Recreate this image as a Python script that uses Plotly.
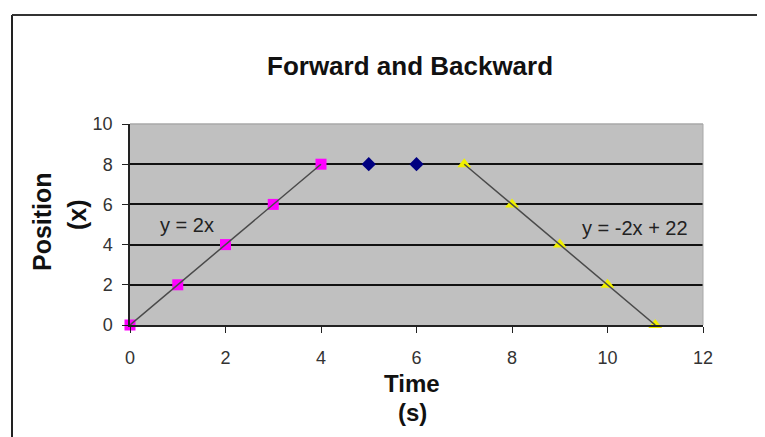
import plotly.graph_objects as go

# forward leg (y = 2x)
fwd_t = [0, 1, 2, 3, 4]
fwd_x = [0, 2, 4, 6, 8]
# stopped
stop_t = [5, 6]
stop_x = [8, 8]
# backward leg (y = -2x + 22)
back_t = [7, 8, 9, 10, 11]
back_x = [8, 6, 4, 2, 0]

x_ticks = [0, 2, 4, 6, 8, 10, 12]
y_ticks = [0, 2, 4, 6, 8, 10]

W, H = 765, 437
OFF = 8  # page body margin shifts the figure
L, R, T, B = 122, 70, 116, 120
pw, ph = W - L - R, H - T - B


# helpers: screen pixel (as seen in the page) -> paper coordinates
def px_x(p):
    return (p - OFF - L) / pw


def px_y(p):
    return (H - B - (p - OFF)) / ph


fig = go.Figure()

fig.add_trace(go.Scatter(x=fwd_t, y=fwd_x, mode='markers', cliponaxis=False,
                         marker=dict(symbol='square', size=11, color='#ff00ff')))
fig.add_trace(go.Scatter(x=stop_t, y=stop_x, mode='markers', cliponaxis=False,
                         marker=dict(symbol='diamond', size=11, color='#000080')))
fig.add_trace(go.Scatter(x=back_t, y=back_x, mode='markers', cliponaxis=False,
                         marker=dict(symbol='triangle-up', size=12, color='#f0f000')))

# trend lines (drawn over the markers, like the original)
fig.add_trace(go.Scatter(x=fwd_t, y=fwd_x, mode='lines',
                         line=dict(color='#4a4a4a', width=1.5), hoverinfo='skip'))
fig.add_trace(go.Scatter(x=back_t, y=back_x, mode='lines',
                         line=dict(color='#4a4a4a', width=1.5), hoverinfo='skip'))

tick_font = dict(family='Liberation Sans, Arial, sans-serif', size=18, color='#333')
bold = 'Liberation Sans, Arial, sans-serif'

fig.update_layout(
    width=W, height=H,
    margin=dict(l=L, r=R, t=T, b=B),
    paper_bgcolor='white',
    plot_bgcolor='#c0c0c0',
    showlegend=False,
    xaxis=dict(range=[0, 12], tickvals=x_ticks, showgrid=False, zeroline=False,
               showline=True, linecolor='#222', linewidth=1.5,
               ticks='outside', ticklen=6, tickcolor='#222',
               tickfont=tick_font, ticklabelstandoff=10),
    yaxis=dict(range=[0, 10], tickvals=y_ticks, showgrid=True, gridcolor='#111', gridwidth=1.5,
               zeroline=False, showline=True, linecolor='#222', linewidth=1.5,
               ticks='outside', ticklen=6, tickcolor='#222',
               tickfont=tick_font, ticklabelstandoff=6),
)

# top/right border of the plot area (no gridline at 10)
fig.add_shape(type='line', xref='paper', yref='paper', x0=0, x1=1, y0=1, y1=1,
              line=dict(color='#a8a8a8', width=1.5))
fig.add_shape(type='line', xref='paper', yref='paper', x0=1, x1=1, y0=0, y1=1,
              line=dict(color='#a8a8a8', width=1))

# outer chart frame (left and top edges)
fig.add_shape(type='line', xref='paper', yref='paper',
              x0=px_x(12), x1=px_x(12), y0=px_y(H + 20), y1=px_y(15),
              line=dict(color='#222', width=2))
fig.add_shape(type='line', xref='paper', yref='paper',
              x0=px_x(12), x1=px_x(W + 20), y0=px_y(15), y1=px_y(15),
              line=dict(color='#333', width=2))

ann = [
    dict(text='<b>Forward and Backward</b>', x=px_x(410), y=px_y(66),
         font=dict(family=bold, size=26, color='#111')),
    dict(text='<b>Time</b>', x=px_x(412), y=px_y(383),
         font=dict(family=bold, size=24, color='#111')),
    dict(text='<b>(s)</b>', x=px_x(412), y=px_y(412),
         font=dict(family=bold, size=24, color='#111')),
    dict(text='<b>Position</b>', x=px_x(42), y=px_y(222), textangle=-90,
         font=dict(family=bold, size=25, color='#111')),
    dict(text='<b>(x)</b>', x=px_x(77), y=px_y(215), textangle=-90,
         font=dict(family=bold, size=25, color='#111')),
]
for a in ann:
    fig.add_annotation(xref='paper', yref='paper', showarrow=False,
                       xanchor='center', yanchor='middle', **a)

eq_font = dict(family='Liberation Sans, Arial', size=20, color='#222')
fig.add_annotation(x=1.19, y=4.97, text='y = 2x', showarrow=False, font=eq_font)
fig.add_annotation(x=10.58, y=4.83, text='y = -2x + 22', showarrow=False, font=eq_font)

fig.write_html("out.html")
